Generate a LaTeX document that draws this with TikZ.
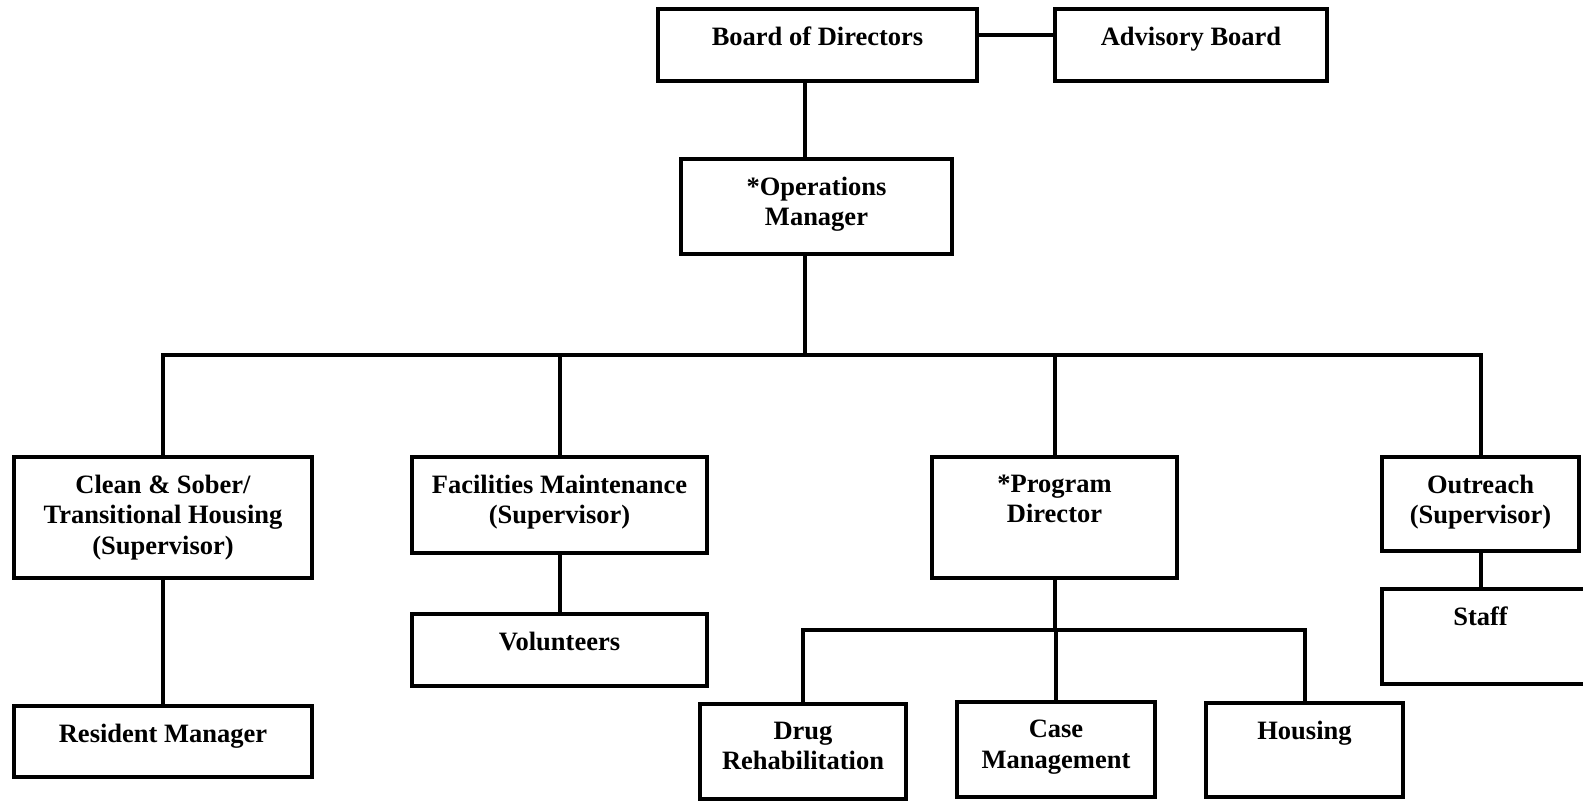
\documentclass[tikz,border=0pt]{standalone}
\usepackage{fontspec}
\setmainfont{Liberation Serif}
\begin{document}
\begin{tikzpicture}[x=1pt,y=-1pt,
  box/.style={draw, rectangle, line width=4.5pt, inner sep=0pt},
  txt/.style={anchor=north, yshift=-20pt, align=center, inner sep=0pt,
    font=\bfseries\fontsize{26.5}{30.5}\selectfont},
  conn/.style={line width=4pt}]
\clip (0,0) rectangle (1583,803);
% boxes (centre, size)
\node[box, minimum width=319, minimum height=72, label={[txt]north:Board of Directors}] (board) at (817.5,45) {};
\node[box, minimum width=272, minimum height=72, label={[txt]north:Advisory Board}] (advisory) at (1191,45) {};
\node[box, minimum width=271, minimum height=95, label={[txt]north:*Operations\\Manager}] (ops) at (816.5,206.5) {};
\node[box, minimum width=298, minimum height=121, label={[txt]north:Clean \& Sober/\\Transitional Housing\\(Supervisor)}] (clean) at (163,517.5) {};
\node[box, minimum width=295, minimum height=96, label={[txt]north:Facilities Maintenance\\(Supervisor)}] (fac) at (559.5,505) {};
\node[box, minimum width=245, minimum height=121, label={[txt]north:*Program\\Director}] (prog) at (1054.5,517.5) {};
\node[box, minimum width=197, minimum height=94, label={[txt]north:Outreach\\(Supervisor)}] (outreach) at (1480.5,504) {};
\node[box, minimum width=318, minimum height=95] (staff) at (1541,636.5) {};
\node[txt, anchor=north] (stafftxt) at (outreach.south |- staff.north) {Staff};
\node[box, minimum width=298, minimum height=71, label={[txt]north:Resident Manager}] (resident) at (163,741.5) {};
\node[box, minimum width=295, minimum height=72, label={[txt]north:Volunteers}] (vol) at (559.5,650) {};
\node[box, minimum width=206, minimum height=95, label={[txt]north:Drug\\Rehabilitation}] (drug) at (803,751.5) {};
\node[box, minimum width=198, minimum height=95, label={[txt]north:Case\\Management}] (case) at (1056,749.5) {};
\node[box, minimum width=197, minimum height=94, label={[txt]north:Housing}] (housing) at (1304.5,750) {};
% helper coordinates
\coordinate (ylink) at (0,35);
\coordinate (bus) at (805,355);
\coordinate (sub) at (1056,630);
% connectors
\draw[conn] (board.east |- ylink) -- (advisory.west |- ylink);
\draw[conn] (board.south -| bus) -- (ops.north -| bus);
\draw[conn] (ops.south -| bus) -- (bus);
\draw[conn] (clean.north) |- (bus) -| (outreach.north);
\draw[conn] (fac.north) -- (fac.north |- bus);
\draw[conn] (prog.north) -- (prog.north |- bus);
\draw[conn] (clean.south) -- (resident.north);
\draw[conn] (fac.south) -- (vol.north);
\draw[conn] (outreach.south) -- (outreach.south |- staff.north);
\draw[conn] (prog.south) -- (prog.south |- sub);
\draw[conn] (drug.north) |- (sub) -| (housing.north);
\draw[conn] (case.north) -- (case.north |- sub);
\end{tikzpicture}
\end{document}
